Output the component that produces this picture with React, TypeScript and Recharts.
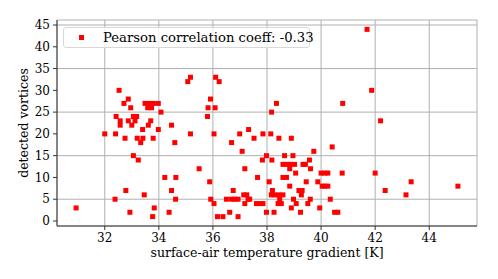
import React from 'react';
import { ScatterChart, Scatter, XAxis, YAxis, CartesianGrid } from 'recharts';

const FONT = '"DejaVu Serif", serif';

const gradientK = [
  30.94, 32.0, 32.4, 32.42, 32.53, 32.38, 32.57, 32.57, 32.71, 32.75,
  32.78, 32.87, 32.87, 32.93, 32.96, 33.0, 33.06, 33.06, 33.12, 33.18,
  33.2, 33.24, 33.33, 33.4, 33.41, 33.46, 33.49, 33.59, 33.61, 33.65,
  33.7, 33.73, 33.77, 33.79, 33.8, 33.83, 33.98, 33.98, 34.08, 34.22,
  34.38, 34.47, 34.47, 34.59, 34.62, 34.63, 35.07, 35.17, 35.17, 35.49,
  35.8, 35.82, 35.88, 35.91, 35.92, 36.04, 36.04, 36.08, 36.1, 36.17,
  36.23, 36.37, 36.5, 36.62, 36.69, 36.69, 36.75, 36.81, 36.93, 36.93,
  36.99, 37.08, 37.14, 37.18, 37.18, 37.25, 37.3, 37.32, 37.36, 37.52,
  37.61, 37.65, 37.73, 37.83, 37.85, 37.85, 37.98, 37.98, 38.08, 38.14,
  38.16, 38.17, 38.18, 38.2, 38.26, 38.28, 38.35, 38.41, 38.44, 38.44,
  38.47, 38.53, 38.59, 38.59, 38.59, 38.65, 38.72, 38.72, 38.84, 38.84,
  38.86, 38.9, 38.9, 38.96, 38.98, 39.06, 39.02, 39.08, 39.18, 39.24,
  39.27, 39.3, 39.33, 39.42, 39.45, 39.51, 39.57, 39.61, 39.6, 39.73,
  39.88, 39.95, 40.0, 40.13, 40.25, 40.04, 40.13, 40.25, 40.34, 40.41,
  40.5, 40.62, 40.78, 40.8, 41.7, 41.87, 42.0, 42.2, 42.37, 43.14,
  43.33, 45.06,
];

const vortexCount = [
  3, 20, 20, 24, 30, 5, 23, 22, 27, 19,
  7, 28, 23, 2, 26, 22, 24, 15, 23, 24,
  19, 14, 18, 21, 19, 6, 27, 26, 22, 27,
  23, 26, 1, 19, 27, 3, 27, 21, 25, 10,
  2, 22, 7, 18, 5, 10, 32, 33, 20, 12,
  24, 26, 9, 28, 5, 20, 4, 26, 33, 1,
  32, 1, 5, 2, 18, 5, 7, 5, 5, 1,
  20, 16, 6, 12, 4, 6, 5, 21, 5, 19,
  4, 10, 4, 14, 20, 4, 15, 2, 9, 20,
  6, 25, 14, 7, 2, 6, 27, 4, 19, 6,
  5, 4, 13, 10, 6, 15, 13, 10, 12, 8,
  13, 19, 3, 15, 5, 11, 13, 4, 7, 2,
  6, 7, 13, 13, 9, 4, 14, 12, 5, 16,
  9, 3, 11, 11, 11, 8, 8, 8, 5, 17,
  2, 2, 11, 27, 44, 30, 11, 23, 7, 6,
  9, 8,
];

const xTicks = [32, 34, 36, 38, 40, 42, 44];
const yTicks = [0, 5, 10, 15, 20, 25, 30, 35, 40, 45];
const legendLabel = 'Pearson correlation coeff: -0.33';
const xLabel = 'surface-air temperature gradient [K]';
const yLabel = 'detected vortices';

const data = gradientK.map((x, i) => ({ x, y: vortexCount[i] }));

const X_DOMAIN: [number, number] = [30.234, 45.766];
const Y_DOMAIN: [number, number] = [-1.15, 46.15];

const Square = (props: any) => {
  const { cx, cy } = props;
  if (cx == null || cy == null) return null;
  return <rect x={cx - 2.5} y={cy - 2.5} width={5} height={5} fill="#ff0000" />;
};

const tickStyle = { fill: '#000', fontSize: 12, fontFamily: FONT };
const LABEL_SIZE = 12.5;

export default function App() {
  return (
    <div style={{ position: 'absolute', left: 0, top: 0, width: 498, height: 279, background: '#fff', fontFamily: FONT }}>
      <ScatterChart width={498} height={279} margin={{ top: 20, right: 21, bottom: 0, left: 0 }}>
        <CartesianGrid stroke="#b0b0b0" strokeWidth={1} />
        <XAxis
          type="number"
          dataKey="x"
          domain={X_DOMAIN}
          ticks={xTicks}
          allowDataOverflow
          height={53}
          tickSize={4}
          tickMargin={3}
          stroke="#333"
          tick={tickStyle}
          label={(p: any) => {
            const vb = p.viewBox;
            return (
              <text x={vb.x + vb.width / 2} y={vb.y + 31} textAnchor="middle" fontSize={LABEL_SIZE} fontFamily={FONT} fill="#000">
                {xLabel}
              </text>
            );
          }}
        />
        <XAxis xAxisId="top" orientation="top" type="number" domain={X_DOMAIN} allowDataOverflow height={0} tick={false} tickLine={false} stroke="#333" />
        <YAxis
          type="number"
          dataKey="y"
          domain={Y_DOMAIN}
          ticks={yTicks}
          allowDataOverflow
          width={57}
          tickSize={4}
          tickMargin={3}
          stroke="#333"
          tick={tickStyle}
          label={(p: any) => {
            const vb = p.viewBox;
            const cx = 28;
            const cy = vb.y + vb.height / 2;
            return (
              <text x={cx} y={cy} transform={`rotate(-90 ${cx} ${cy})`} textAnchor="middle" fontSize={LABEL_SIZE} fontFamily={FONT} fill="#000">
                {yLabel}
              </text>
            );
          }}
        />
        <YAxis yAxisId="right" orientation="right" type="number" domain={Y_DOMAIN} allowDataOverflow width={0} tick={false} tickLine={false} stroke="#333" />
        <Scatter data={data} shape={Square} fill="#ff0000" isAnimationActive={false} />
      </ScatterChart>
      <div
        style={{
          position: 'absolute',
          left: 63,
          top: 27,
          width: 247,
          height: 21,
          boxSizing: 'border-box',
          border: '1px solid #d8d8d8',
          borderRadius: 3,
          background: 'rgba(255,255,255,0.8)',
          display: 'flex',
          alignItems: 'center',
          fontSize: 13.2,
          fontFamily: FONT,
          color: '#000',
        }}
      >
        <div style={{ width: 5, height: 5, background: '#ff0000', marginLeft: 14.5, marginRight: 19.5, flexShrink: 0 }} />
        <span style={{ whiteSpace: 'nowrap', lineHeight: '15px' }}>{legendLabel}</span>
      </div>
    </div>
  );
}
